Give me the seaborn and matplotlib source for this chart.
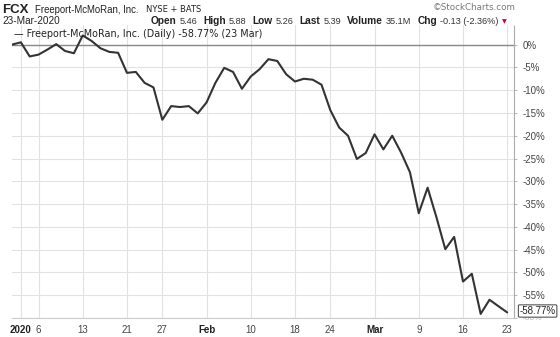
import matplotlib
matplotlib.use("Agg")
import matplotlib.pyplot as plt
import seaborn as sns
import pandas as pd
import numpy as np

# ---- data ----
dates = ["2019-12-31",
         "2020-01-02", "2020-01-03", "2020-01-06", "2020-01-07", "2020-01-08", "2020-01-09", "2020-01-10",
         "2020-01-13", "2020-01-14", "2020-01-15", "2020-01-16", "2020-01-17",
         "2020-01-21", "2020-01-22", "2020-01-23", "2020-01-24",
         "2020-01-27", "2020-01-28", "2020-01-29", "2020-01-30", "2020-01-31",
         "2020-02-03", "2020-02-04", "2020-02-05", "2020-02-06", "2020-02-07",
         "2020-02-10", "2020-02-11", "2020-02-12", "2020-02-13", "2020-02-14",
         "2020-02-18", "2020-02-19", "2020-02-20", "2020-02-21",
         "2020-02-24", "2020-02-25", "2020-02-26", "2020-02-27", "2020-02-28",
         "2020-03-02", "2020-03-03", "2020-03-04", "2020-03-05", "2020-03-06",
         "2020-03-09", "2020-03-10", "2020-03-11", "2020-03-12", "2020-03-13",
         "2020-03-16", "2020-03-17", "2020-03-18", "2020-03-19", "2020-03-20",
         "2020-03-23"]
pct_change = [0.0,
              0.5, -2.6, -2.2, -1.1, 0.1, -1.4, -1.9,
              2.0, 0.8, -0.8, -1.6, -1.8,
              -6.2, -6.0, -8.4, -9.4,
              -16.5, -13.5, -13.7, -13.5, -15.1,
              -12.7, -8.4, -5.1, -6.0, -9.7,
              -7.0, -5.4, -3.2, -3.6, -6.5,
              -8.1, -7.5, -7.7, -8.8,
              -14.4, -18.2, -20.0, -25.1, -23.8,
              -19.7, -23.0, -20.0, -23.7, -28.0,
              -37.0, -31.4, -37.9, -44.9, -42.2,
              -52.0, -50.3, -59.1, -56.0, -57.4,
              -58.77]
tick_dates = ["2020-01-02", "2020-01-06", "2020-01-13", "2020-01-21", "2020-01-27",
              "2020-02-03", "2020-02-10", "2020-02-18", "2020-02-24",
              "2020-03-02", "2020-03-09", "2020-03-16", "2020-03-23"]
tick_labels = ["2020", "6", "13", "21", "27", "Feb", "10", "18", "24", "Mar", "9", "16", "23"]
bold_ticks = ["2020", "Feb", "Mar"]
y_ticks = [0, -5, -10, -15, -20, -25, -30, -35, -40, -45, -50, -55, -60]
quote_labels = ["Open", "High", "Low", "Last", "Volume", "Chg"]
quote_values = ["5.46", "5.88", "5.26", "5.39", "35.1M", "-0.13 (-2.36%)"]

df = pd.DataFrame({"date": dates, "pct": pct_change})
df["pos"] = range(len(df))

sns.set_theme(style="white")
plt.rcParams['font.family'] = ['Liberation Sans', 'DejaVu Sans']

W, H = 560, 337
fig = plt.figure(figsize=(W / 100, H / 100), dpi=100)
L, R, T, B = 12, 514, 25, 318
ax = fig.add_axes([L / W, 1 - B / H, (R - L) / W, (B - T) / H])

# grid
for yv in y_ticks:
    ax.axhline(yv, color="#e2e2e2", lw=0.8, zorder=0)
pos_map = dict(zip(df["date"], df["pos"]))
tick_pos = [pos_map[d] for d in tick_dates]
for xv in tick_pos:
    ax.axvline(xv, color="#e2e2e2", lw=0.8, zorder=0)
ax.axhline(0, color="#8a8a8a", lw=1.0, zorder=1)

sns.lineplot(data=df, x="pos", y="pct", ax=ax, color="#333333", lw=1.5, zorder=3)

ax.set_xlim(0, 56.77)
ax.set_ylim(-60, 4.3)
ax.set_xlabel("")
ax.set_ylabel("")

for s in ["top", "left"]:
    ax.spines[s].set_visible(False)
ax.spines["bottom"].set_color("#cccccc")
ax.spines["bottom"].set_linewidth(0.8)
ax.spines["right"].set_color("#aaaaaa")
ax.spines["right"].set_linestyle((0, (1, 1)))
ax.spines["right"].set_linewidth(0.8)

ax.yaxis.tick_right()
ax.set_yticks(y_ticks)
ax.set_yticklabels([f"{v}%" for v in y_ticks], fontsize=7, color="#444444")
ax.tick_params(axis="y", length=2, width=0.6, color="#aaaaaa", pad=4, direction="out")
ax.set_xticks(tick_pos)
ax.set_xticklabels(tick_labels, fontsize=7, color="#444444")
for lab in ax.get_xticklabels():
    if lab.get_text() in bold_ticks:
        lab.set_fontweight("bold")
        lab.set_color("#222222")
ax.set_xticks(df["pos"].tolist(), minor=True)
ax.tick_params(axis="x", which="both", length=2, width=0.5, color="#bbbbbb", pad=3)
ax.tick_params(axis="y", which="both", right=True, left=False)

# -60% label sits partly behind the last-value tag
for lab in ax.get_yticklabels():
    if lab.get_text() == "-60%":
        lab.set_alpha(0.4)
        lab.set_fontsize(6)

# last value tag
ax.annotate(f"{pct_change[-1]:.2f}%", xy=(1.0, pct_change[-1]), xycoords=("axes fraction", "data"),
            xytext=(4, 1), textcoords="offset points", ha="left", va="center",
            fontsize=7, color="#222222",
            bbox=dict(boxstyle="round,pad=0.12", fc="white", ec="#555555", lw=0.8),
            annotation_clip=False, zorder=5)

# legend line inside plot
ax.text(0.004, 0.985, "\u2014 Freeport-McMoRan, Inc. (Daily) -58.77% (23 Mar)",
        transform=ax.transAxes, ha="left", va="top", fontsize=6.9, color="#222222",
        family="DejaVu Sans")


def ftext(x, y, s, **kw):
    return fig.text(x / W, 1 - y / H, s, va="center", ha="left", **kw)


# header row 1
ftext(2, 10, "FCX", fontsize=9.5, fontweight="bold", color="#222222")
ftext(35, 10, "Freeport-McMoRan, Inc.", fontsize=6.9, color="#222222")
ftext(146, 10, "NYSE + BATS", fontsize=6, color="#222222", family="DejaVu Sans")
ftext(433, 7, "\u00a9StockCharts.com", fontsize=6.3, color="#777777", family="DejaVu Sans")

# header row 2
ftext(2, 21, "23-Mar-2020", fontsize=7.2, color="#222222")
renderer = fig.canvas.get_renderer()
x = 151
for lab, val in zip(quote_labels, quote_values):
    t = ftext(x, 21, lab, fontsize=7.3, fontweight="bold", color="#222222")
    x += t.get_window_extent(renderer).width + 3
    t = ftext(x, 21, val, fontsize=6.6, color="#333333")
    x += t.get_window_extent(renderer).width + 6
ftext(x - 3, 22, "\u25bc", fontsize=4.5, color="#cc0033", family="DejaVu Sans")

fig.savefig("out.png", dpi=100)
